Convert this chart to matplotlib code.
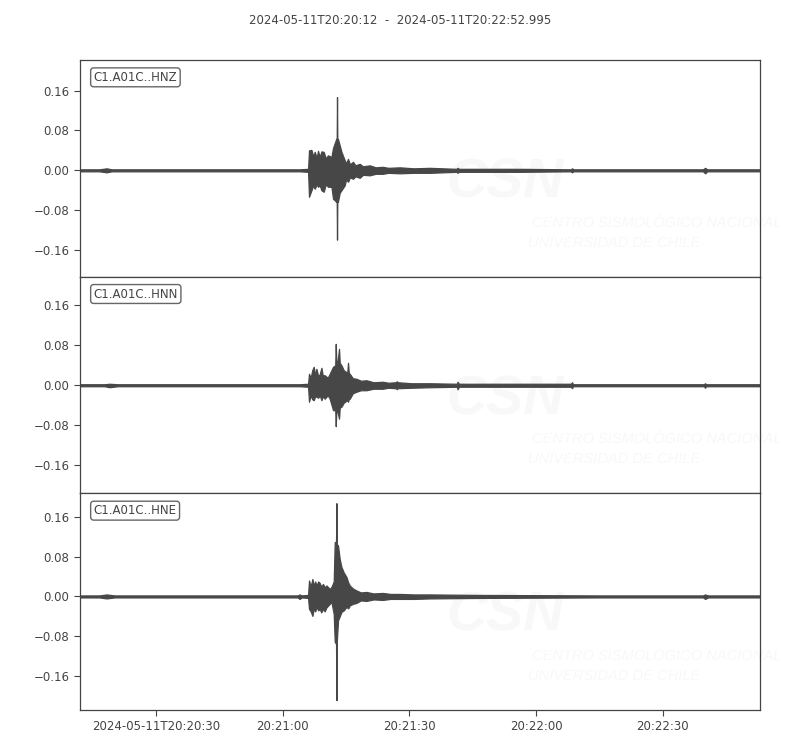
import datetime as dt
import numpy as np
import matplotlib
matplotlib.use('Agg')
import matplotlib.pyplot as plt
import matplotlib.dates as mdates

start = dt.datetime(2024, 5, 11, 20, 20, 12)
end = start + dt.timedelta(seconds=160.995)
title = '2024-05-11T20:20:12  -  2024-05-11T20:22:52.995'
y_ticks = [-0.16, -0.08, 0.0, 0.08, 0.16]

# envelope of each trace: seconds after start, max and min of the signal
hnz_t = [0, 4.6, 6.3, 7.5, 52.0, 54.0, 54.22, 54.79, 55.21, 55.57, 56.04, 56.35, 56.75, 57.16,
         57.70, 58.18, 58.72, 59.53, 59.91, 60.66, 60.78, 60.85, 60.92, 61.07, 61.49, 61.90,
         62.68, 63.0, 63.46, 63.9, 64.64, 65.2, 66.23, 67.0, 68.60, 70.0, 71.68, 73.0, 75.71,
         79.0, 82.82, 89.1, 89.4, 89.7, 104.1, 116.2, 116.5, 116.8, 123.1, 147.5, 148.0,
         148.5, 161.0]
hnz_hi = [0.002, 0.002, 0.004, 0.002, 0.002, 0.003, 0.040, 0.041, 0.028, 0.037, 0.025, 0.039,
          0.027, 0.038, 0.037, 0.024, 0.030, 0.027, 0.045, 0.063, 0.063, 0.147, 0.063, 0.063,
          0.050, 0.037, 0.020, 0.014, 0.023, 0.012, 0.017, 0.010, 0.013, 0.008, 0.010, 0.006,
          0.007, 0.005, 0.006, 0.004, 0.005, 0.003, 0.005, 0.003, 0.003, 0.002, 0.004, 0.002,
          0.002, 0.002, 0.005, 0.002, 0.002]
hnz_lo = [-0.002, -0.002, -0.004, -0.002, -0.002, -0.003, -0.053, -0.040, -0.030, -0.037,
          -0.028, -0.033, -0.030, -0.040, -0.043, -0.028, -0.033, -0.033, -0.057, -0.063,
          -0.063, -0.139, -0.063, -0.063, -0.045, -0.040, -0.030, -0.018, -0.023, -0.014,
          -0.017, -0.012, -0.015, -0.009, -0.010, -0.007, -0.007, -0.005, -0.006, -0.005,
          -0.005, -0.003, -0.005, -0.003, -0.003, -0.002, -0.004, -0.002, -0.002, -0.002,
          -0.006, -0.002, -0.002]

hnn_t = [0, 5.8, 7.0, 8.9, 52.0, 54.0, 54.22, 54.62, 54.98, 55.33, 55.69, 55.97, 56.40, 56.75,
         57.16, 57.46, 57.94, 58.65, 59.12, 59.91, 60.43, 60.55, 60.69, 61.02, 61.33, 61.49,
         61.90, 62.44, 63.27, 63.46, 63.63, 63.86, 64.6, 65.45, 66.5, 67.82, 69.5, 71.68, 73.0,
         74.8, 75.0, 75.2, 78.5, 82.82, 89.2, 89.4, 89.7, 104.1, 116.2, 116.5, 116.7, 147.7,
         148.0, 148.2, 161.0]
hnn_hi = [0.002, 0.002, 0.003, 0.002, 0.002, 0.003, 0.023, 0.015, 0.030, 0.037, 0.020, 0.033,
          0.018, 0.022, 0.035, 0.020, 0.020, 0.015, 0.023, 0.037, 0.040, 0.083, 0.045, 0.050,
          0.073, 0.045, 0.040, 0.030, 0.025, 0.045, 0.025, 0.023, 0.014, 0.013, 0.009, 0.010,
          0.006, 0.007, 0.005, 0.006, 0.008, 0.006, 0.004, 0.004, 0.003, 0.007, 0.003, 0.003,
          0.003, 0.006, 0.002, 0.002, 0.004, 0.002, 0.002]
hnn_lo = [-0.002, -0.002, -0.004, -0.002, -0.002, -0.003, -0.033, -0.020, -0.028, -0.030,
          -0.022, -0.023, -0.025, -0.020, -0.030, -0.022, -0.027, -0.020, -0.027, -0.050,
          -0.050, -0.082, -0.050, -0.055, -0.067, -0.045, -0.043, -0.035, -0.030, -0.033,
          -0.028, -0.027, -0.016, -0.013, -0.010, -0.010, -0.007, -0.007, -0.005, -0.006,
          -0.008, -0.006, -0.005, -0.004, -0.003, -0.008, -0.003, -0.003, -0.003, -0.006,
          -0.002, -0.002, -0.005, -0.002, -0.002]

hne_t = [0, 4.6, 6.3, 8.2, 51.5, 52.0, 52.5, 54.0, 54.22, 54.62, 55.02, 55.33, 55.69, 55.97,
         56.40, 56.75, 57.11, 57.54, 57.94, 58.34, 59.12, 59.53, 60.07, 60.31, 60.62, 60.71,
         60.80, 61.09, 61.49, 61.90, 62.44, 63.08, 63.5, 63.86, 64.6, 65.45, 66.5, 67.82, 69.5,
         71.68, 73.5, 75.71, 79.0, 82.82, 94.7, 123.1, 147.5, 148.0, 148.7, 161.0]
hne_hi = [0.002, 0.002, 0.004, 0.002, 0.002, 0.004, 0.002, 0.003, 0.032, 0.020, 0.035, 0.022,
          0.030, 0.022, 0.030, 0.027, 0.020, 0.025, 0.018, 0.022, 0.015, 0.019, 0.030, 0.109,
          0.110, 0.187, 0.105, 0.102, 0.075, 0.059, 0.048, 0.039, 0.028, 0.022, 0.016, 0.012,
          0.008, 0.009, 0.006, 0.007, 0.005, 0.005, 0.004, 0.004, 0.003, 0.002, 0.002, 0.004,
          0.002, 0.002]
hne_lo = [-0.002, -0.002, -0.004, -0.002, -0.002, -0.005, -0.002, -0.003, -0.025, -0.030,
          -0.039, -0.025, -0.030, -0.021, -0.028, -0.025, -0.032, -0.025, -0.030, -0.022,
          -0.015, -0.011, -0.035, -0.091, -0.095, -0.208, -0.090, -0.048, -0.040, -0.031,
          -0.028, -0.021, -0.024, -0.018, -0.015, -0.013, -0.008, -0.009, -0.006, -0.007,
          -0.005, -0.005, -0.005, -0.004, -0.003, -0.002, -0.002, -0.005, -0.002, -0.002]

channels = ['C1.A01C..HNZ', 'C1.A01C..HNN', 'C1.A01C..HNE']
traces = [(hnz_t, hnz_hi, hnz_lo), (hnn_t, hnn_hi, hnn_lo), (hne_t, hne_hi, hne_lo)]

grey = '#444444'
wave = '#474747'
mark = '#f8f8f8'
plt.rcParams['font.family'] = 'DejaVu Sans'
plt.rcParams['font.size'] = 8

# same scale for every trace, each centred on its own range
half = 1.1 * max((max(hi) - min(lo)) / 2 for _, hi, lo in traces)

fig = plt.figure(figsize=(8, 7.5), dpi=100)
fig.text(0.5, 1 - 20 / 750, title, ha='center', va='center', color=grey, fontsize=8.5)

left, width = 0.1, 0.85
bottom, top = 40 / 750, 690 / 750
h = (top - bottom) / 3

axes = []
for i, (name, (t, hi, lo)) in enumerate(zip(channels, traces)):
    ax = fig.add_axes([left, top - (i + 1) * h, width, h])
    axes.append(ax)
    times = [start + dt.timedelta(seconds=s) for s in t]
    x = mdates.date2num(times)

    # faint CSN watermark
    ax.text(0.625, 0.43, 'CSN', transform=ax.transAxes, fontsize=40, fontstyle='italic',
            fontweight='bold', family='Liberation Sans', color=mark, ha='center',
            va='center', zorder=0)
    ax.text(0.665, 0.249, 'CENTRO SISMOLÓGICO NACIONAL', transform=ax.transAxes,
            fontsize=10.5, fontstyle='italic', family='Liberation Sans', color=mark,
            ha='left', va='center', zorder=0)
    ax.text(0.659, 0.157, 'UNIVERSIDAD DE CHILE', transform=ax.transAxes,
            fontsize=10.5, fontstyle='italic', family='Liberation Sans', color=mark,
            ha='left', va='center', zorder=0)

    ax.fill_between(x, lo, hi, color=wave, linewidth=0.9, edgecolor=wave, zorder=2)
    ax.set_xlim(mdates.date2num(start), mdates.date2num(end))
    mid = (max(hi) + min(lo)) / 2
    ax.set_ylim(mid - half, mid + half)
    ax.set_yticks(y_ticks)
    ax.set_yticklabels(['\u22120.16', '\u22120.08', '0.00', '0.08', '0.16'])
    ax.tick_params(colors=grey, labelcolor=grey, labelsize=8.5, length=4)
    for sp in ax.spines.values():
        sp.set_color(grey)
        sp.set_linewidth(0.9)
    ax.text(0.02, 0.92, name, transform=ax.transAxes, ha='left', va='center', color=grey,
            fontsize=8.5,
            bbox=dict(boxstyle='round,pad=0.25', fc='white', ec='#666666', lw=1.0))
    if i < 2:
        ax.tick_params(axis='x', bottom=False, labelbottom=False)

tick_times = [start + dt.timedelta(seconds=s) for s in (18, 48, 78, 108, 138)]
tick_labels = ['2024-05-11T20:20:30', '20:21:00', '20:21:30', '20:22:00', '20:22:30']
axes[-1].set_xticks(mdates.date2num(tick_times))
axes[-1].set_xticklabels(tick_labels)

fig.savefig('out.png', dpi=100)
